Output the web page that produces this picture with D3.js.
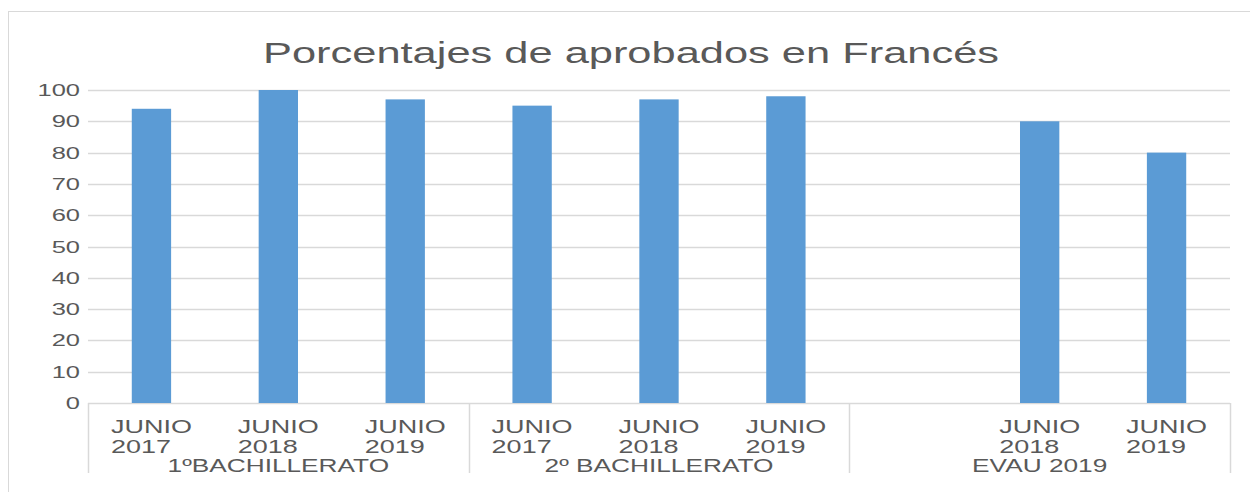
<!DOCTYPE html>
<html>
<head>
<meta charset="utf-8">
<script src="https://cdn.jsdelivr.net/npm/d3@7"></script>
<style>
  body { margin: 0; background: #fff; }
  text { font-family: "Liberation Sans", Arial, sans-serif; fill: #595959; }
</style>
</head>
<body>
<div id="chart-area"></div>
<script>
var groups = ["1ºBACHILLERATO", "2º BACHILLERATO", "EVAU 2019"];
var categories = ["JUNIO 2017", "JUNIO 2018", "JUNIO 2019",
                  "JUNIO 2017", "JUNIO 2018", "JUNIO 2019",
                  "", "JUNIO 2018", "JUNIO 2019"];
var groupIndex = [0, 0, 0, 1, 1, 1, 2, 2, 2];
var values = [94, 100, 97, 95, 97, 98, null, 90, 80];
var yTicks = [0, 10, 20, 30, 40, 50, 60, 70, 80, 90, 100];

var W = 1250, H = 492;
var plot = { left: 88, right: 1230, top: 90, bottom: 403 };
var sx = 1.5; // horizontal stretch of the text in the picture

var svg = d3.select("#chart-area")
  .append("svg")
  .attr("width", W)
  .attr("height", H);

// outer border
svg.append("rect")
  .attr("x", 8.5)
  .attr("y", 11.5)
  .attr("width", W)
  .attr("height", H)
  .attr("fill", "none")
  .attr("stroke", "#D9D9D9");

var idx = d3.range(categories.length);

var x = d3.scaleBand()
  .domain(idx)
  .range([plot.left, plot.right])
  .paddingInner(0.69)
  .paddingOuter(0.345);

var y = d3.scaleLinear()
  .domain([0, 100])
  .range([plot.bottom, plot.top]);

// Title
svg.append("text")
  .attr("x", (plot.left + plot.right) / 2 - 28)
  .attr("y", 63)
  .attr("text-anchor", "middle")
  .attr("font-size", "29px")
  .attr("textLength", 736)
  .attr("lengthAdjust", "spacingAndGlyphs")
  .text("Porcentajes de aprobados en Francés");

// Gridlines
svg.append("g")
  .selectAll("line")
  .data(yTicks)
  .enter()
  .append("line")
  .attr("x1", plot.left)
  .attr("x2", plot.right)
  .attr("y1", d => Math.round(y(d)) + 0.5)
  .attr("y2", d => Math.round(y(d)) + 0.5)
  .attr("stroke", "#D9D9D9")
  .attr("stroke-width", 1.5);

// Y labels
svg.append("g")
  .selectAll("text")
  .data(yTicks)
  .enter()
  .append("text")
  .attr("transform", d => "translate(80," + (y(d) + 6) + ") scale(" + sx + ",1)")
  .attr("text-anchor", "end")
  .attr("font-size", "17px")
  .text(d => d);

// Bars
svg.append("g")
  .selectAll("rect")
  .data(idx.filter(i => values[i] != null))
  .enter()
  .append("rect")
  .attr("x", i => x(i))
  .attr("y", i => y(values[i]))
  .attr("width", x.bandwidth())
  .attr("height", i => y(0) - y(values[i]))
  .attr("fill", "#5B9BD5");

// Group dividers
var step = x.step();
var bounds = [0];
groups.forEach((g, gi) => {
  var last = d3.max(idx.filter(i => groupIndex[i] === gi));
  bounds.push(last + 1);
});
svg.append("g")
  .selectAll("line")
  .data(bounds)
  .enter()
  .append("line")
  .attr("x1", b => Math.round(plot.left + b * step) + 0.5)
  .attr("x2", b => Math.round(plot.left + b * step) + 0.5)
  .attr("y1", plot.bottom)
  .attr("y2", 473)
  .attr("stroke", "#D9D9D9")
  .attr("stroke-width", 1.5);

// Category labels (two lines, left-aligned block centered in slot)
var cat = svg.append("g")
  .selectAll("g")
  .data(idx.filter(i => categories[i] !== ""))
  .enter()
  .append("g");

cat.each(function(i) {
  var parts = categories[i].split(" ");
  var t = d3.select(this).append("text")
    .attr("font-size", "18px");
  t.append("tspan").attr("x", 0).attr("y", 0).text(parts[0]);
  t.append("tspan").attr("x", 0).attr("y", 20).text(parts[1]);
  var w = this.getBBox().width * sx;
  var cx = x(i) + x.bandwidth() / 2;
  d3.select(this).attr("transform",
    "translate(" + (cx - w / 2) + ",433) scale(" + sx + ",1)");
});

// Group labels
svg.append("g")
  .selectAll("text")
  .data(groups)
  .enter()
  .append("text")
  .attr("transform", (g, gi) => {
    var cx = plot.left + (bounds[gi] + bounds[gi + 1]) / 2 * step;
    return "translate(" + cx + ",472) scale(" + sx + ",1)";
  })
  .attr("text-anchor", "middle")
  .attr("font-size", "17.5px")
  .text(d => d);
</script>
</body>
</html>
